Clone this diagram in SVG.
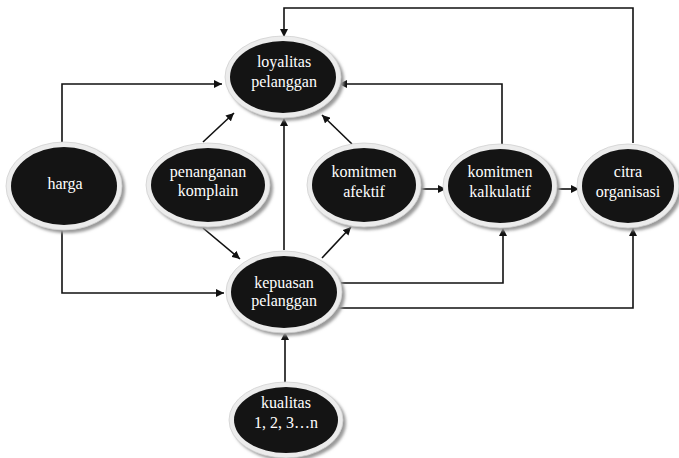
<svg xmlns="http://www.w3.org/2000/svg" width="679" height="458" viewBox="0 0 679 458">
<defs>
<marker id="ah" viewBox="0 0 10 10" refX="10" refY="5" markerWidth="8" markerHeight="8" markerUnits="userSpaceOnUse" orient="auto">
<path d="M0,0 L10,5 L0,10 z" fill="#111"/>
</marker>
<filter id="blur" x="-20%" y="-20%" width="140%" height="140%"><feGaussianBlur stdDeviation="1.5"/></filter>
</defs>
<style>
.sh{fill:#9a9a9a;filter:url(#blur)}
.rim{fill:#ececec;stroke:#d0d0d0;stroke-width:0.8}
.in{fill:#141414}
.t{font-family:"Liberation Serif","Times New Roman",serif;font-size:16px;fill:#ffffff;text-anchor:middle}
.c{fill:none;stroke:#111;stroke-width:1.6;marker-end:url(#ah)}
</style>
<rect width="679" height="458" fill="#ffffff"/>
<g id="connectors">
<polyline class="c" points="633,143 633,8 284,8 284,37"/>
<polyline class="c" points="62,142 62,84 222,84"/>
<polyline class="c" points="62,230 62,293 224,293"/>
<line class="c" x1="203" y1="142" x2="234" y2="113"/>
<line class="c" x1="203" y1="228" x2="240" y2="259"/>
<line class="c" x1="284" y1="250" x2="284" y2="118"/>
<line class="c" x1="322" y1="258" x2="351" y2="227"/>
<line class="c" x1="352" y1="144" x2="322" y2="115"/>
<line class="c" x1="421" y1="189" x2="446" y2="189"/>
<polyline class="c" points="502,144 502,84 339,84"/>
<line class="c" x1="556" y1="189" x2="579" y2="189"/>
<polyline class="c" points="340,283 503,283 503,228"/>
<polyline class="c" points="338,308 633,308 633,228"/>
<line class="c" x1="285" y1="383" x2="285" y2="332"/>
</g>
<g id="n-loyalitas">
<ellipse class="sh" cx="286" cy="80" rx="58" ry="41"/>
<ellipse class="rim" cx="283" cy="77" rx="58" ry="41"/>
<ellipse class="in" cx="283" cy="77" rx="53" ry="36"/>
<text class="t" x="284" y="67">loyalitas</text>
<text class="t" x="284" y="87">pelanggan</text>
</g>
<g id="n-harga">
<ellipse class="sh" cx="67" cy="189" rx="58" ry="44"/>
<ellipse class="rim" cx="64" cy="186" rx="58" ry="44"/>
<ellipse class="in" cx="64" cy="186" rx="53" ry="39"/>
<text class="t" x="65" y="189">harga</text>
</g>
<g id="n-penanganan">
<ellipse class="sh" cx="211" cy="188" rx="62" ry="42"/>
<ellipse class="rim" cx="208" cy="185" rx="62" ry="42"/>
<ellipse class="in" cx="208" cy="185" rx="57" ry="37"/>
<text class="t" x="208" y="177">penanganan</text>
<text class="t" x="208" y="196">komplain</text>
</g>
<g id="n-afektif">
<ellipse class="sh" cx="367" cy="188" rx="57" ry="42"/>
<ellipse class="rim" cx="364" cy="185" rx="57" ry="42"/>
<ellipse class="in" cx="364" cy="185" rx="52" ry="37"/>
<text class="t" x="364" y="177">komitmen</text>
<text class="t" x="364" y="197">afektif</text>
</g>
<g id="n-kalkulatif">
<ellipse class="sh" cx="503" cy="189" rx="57" ry="42"/>
<ellipse class="rim" cx="500" cy="186" rx="57" ry="42"/>
<ellipse class="in" cx="500" cy="186" rx="52" ry="37"/>
<text class="t" x="500" y="177">komitmen</text>
<text class="t" x="500" y="197">kalkulatif</text>
</g>
<g id="n-citra">
<ellipse class="sh" cx="631" cy="189" rx="51" ry="42"/>
<ellipse class="rim" cx="628" cy="186" rx="51" ry="42"/>
<ellipse class="in" cx="628" cy="186" rx="46" ry="37"/>
<text class="t" x="628" y="177">citra</text>
<text class="t" x="628" y="197">organisasi</text>
</g>
<g id="n-kepuasan">
<ellipse class="sh" cx="287" cy="295" rx="58" ry="41"/>
<ellipse class="rim" cx="284" cy="292" rx="58" ry="41"/>
<ellipse class="in" cx="284" cy="292" rx="53" ry="36"/>
<text class="t" x="284" y="288">kepuasan</text>
<text class="t" x="284" y="306">pelanggan</text>
</g>
<g id="n-kualitas">
<ellipse class="sh" cx="289" cy="423" rx="57" ry="38"/>
<ellipse class="rim" cx="286" cy="420" rx="57" ry="38"/>
<ellipse class="in" cx="286" cy="420" rx="52" ry="33"/>
<text class="t" x="286" y="408">kualitas</text>
<text class="t" x="286" y="428">1, 2, 3…n</text>
</g>
</svg>
